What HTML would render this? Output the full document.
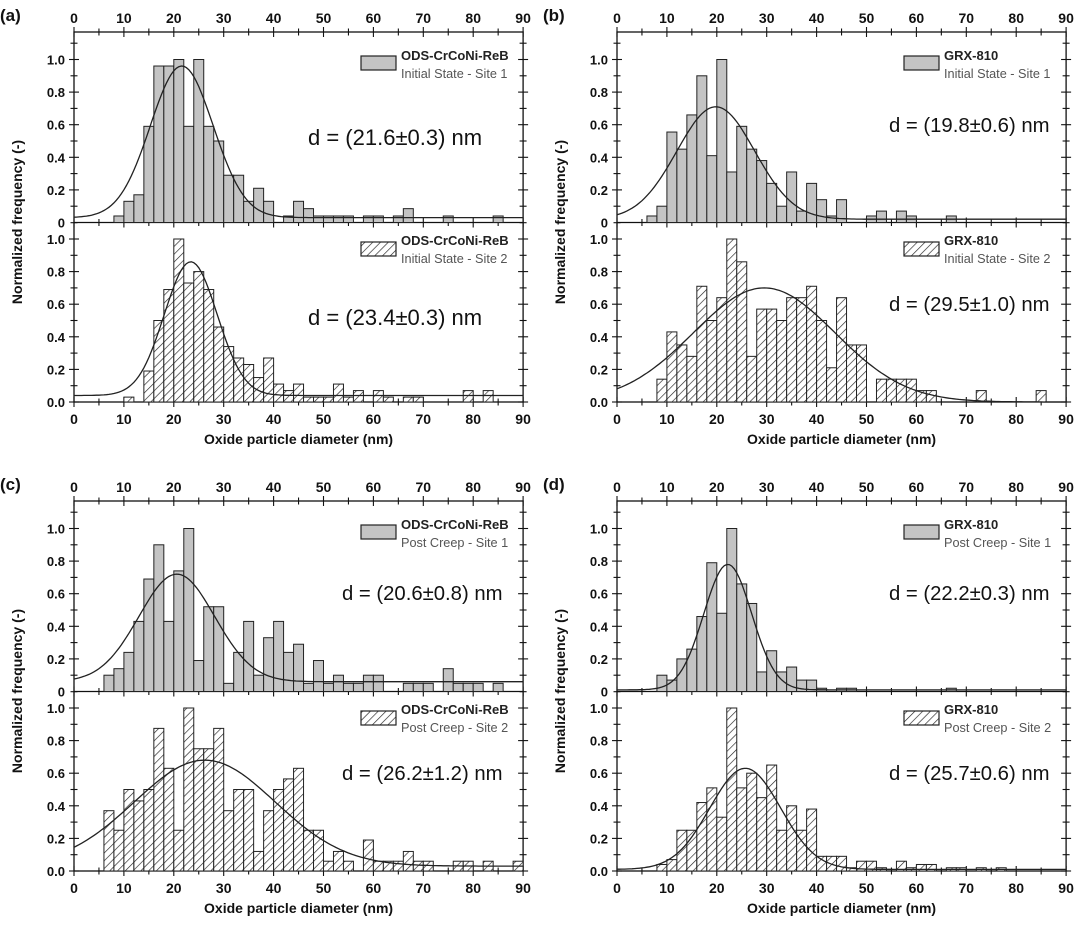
<!DOCTYPE html>
<html><head><meta charset="utf-8"><style>
html,body{margin:0;padding:0;background:#fff}
svg{display:block;font-family:"Liberation Sans",Arial,sans-serif}
</style></head><body>
<svg id="fig" width="1080" height="928" viewBox="0 0 1080 928" xmlns="http://www.w3.org/2000/svg">
<defs>
<pattern id="hatch" patternUnits="userSpaceOnUse" width="5.5" height="5.5" patternTransform="rotate(45)">
<rect width="5.5" height="5.5" fill="#fff"/><line x1="0" y1="0" x2="0" y2="5.5" stroke="#222" stroke-width="1.3"/>
</pattern>
</defs>
</svg>
<script>
// ---- data (bin start in nm, normalized frequency) ----
const aTopBins=[8,10,12,14,16,18,20,22,24,26,28,30,32,34,36,38,42,44,46,48,50,52,54,58,60,64,66,74,84];
const aTopVals=[0.04,0.13,0.17,0.59,0.96,0.96,1.0,0.59,1.0,0.59,0.50,0.29,0.29,0.13,0.21,0.13,0.04,0.13,0.085,0.04,0.04,0.04,0.04,0.04,0.04,0.04,0.085,0.04,0.04];
const aBotBins=[10,14,16,18,20,22,24,26,28,30,32,34,36,38,40,42,44,46,48,50,52,54,56,60,62,66,68,78,82];
const aBotVals=[0.03,0.19,0.50,0.69,1.0,0.73,0.80,0.69,0.46,0.34,0.27,0.23,0.15,0.27,0.11,0.07,0.11,0.03,0.03,0.03,0.11,0.03,0.07,0.07,0.03,0.03,0.03,0.07,0.07];
const bTopBins=[6,8,10,12,14,16,18,20,22,24,26,28,30,32,34,36,38,40,42,44,50,52,56,58,66];
const bTopVals=[0.04,0.10,0.555,0.45,0.66,0.90,0.41,1.0,0.31,0.59,0.45,0.38,0.24,0.10,0.31,0.07,0.24,0.14,0.04,0.14,0.04,0.07,0.07,0.04,0.04];
const bBotBins=[8,10,12,14,16,18,20,22,24,26,28,30,32,34,36,38,40,42,44,46,48,52,54,56,58,60,62,72,84];
const bBotVals=[0.14,0.43,0.35,0.28,0.71,0.50,0.64,1.0,0.86,0.28,0.57,0.57,0.50,0.64,0.64,0.71,0.50,0.21,0.64,0.35,0.35,0.14,0.14,0.14,0.14,0.07,0.07,0.07,0.07];
const cTopBins=[6,8,10,12,14,16,18,20,22,24,26,28,30,32,34,36,38,40,42,44,46,48,50,52,54,56,58,60,66,68,70,74,76,78,80,84];
const cTopVals=[0.10,0.14,0.24,0.43,0.69,0.90,0.43,0.74,1.0,0.19,0.52,0.52,0.05,0.24,0.43,0.10,0.33,0.43,0.24,0.29,0.05,0.19,0.05,0.10,0.05,0.05,0.10,0.10,0.05,0.05,0.05,0.14,0.05,0.05,0.05,0.05];
const cBotBins=[6,8,10,12,14,16,18,20,22,24,26,28,30,32,34,36,38,40,42,44,46,48,50,52,54,58,60,62,64,66,68,70,76,78,82,88];
const cBotVals=[0.37,0.25,0.50,0.43,0.50,0.875,0.63,0.25,1.0,0.75,0.75,0.875,0.37,0.50,0.50,0.12,0.37,0.50,0.565,0.63,0.25,0.25,0.06,0.12,0.06,0.19,0.06,0.06,0.06,0.12,0.06,0.06,0.06,0.06,0.06,0.06];
const dTopBins=[8,10,12,14,16,18,20,22,24,26,28,30,32,34,36,38,40,44,46,66];
const dTopVals=[0.10,0.07,0.20,0.26,0.46,0.79,0.48,1.0,0.66,0.54,0.12,0.25,0.12,0.15,0.07,0.07,0.02,0.02,0.02,0.02];
const dBotBins=[8,10,12,14,16,18,20,22,24,26,28,30,32,34,36,38,40,42,44,46,48,50,52,56,58,60,62,66,68,72,76];
const dBotVals=[0.04,0.07,0.25,0.25,0.42,0.51,0.33,1.0,0.51,0.60,0.45,0.65,0.25,0.40,0.25,0.38,0.09,0.09,0.09,0.02,0.06,0.06,0.02,0.06,0.02,0.04,0.04,0.02,0.02,0.02,0.02];
// gaussian fit params per subplot (a-top, a-bot, b-top, b-bot, c-top, c-bot, d-top, d-bot)
const fitCenters=[21.6,23.4,19.8,29.5,20.6,26.2,22.2,25.7];
const fitAmps=[0.93,0.82,0.69,0.70,0.66,0.65,0.77,0.62];
const fitSigmas=[6.3,5.3,7.8,14.2,7.6,14.1,4.8,7.1];
const fitOffsets=[0.03,0.04,0.02,0.0,0.06,0.03,0.01,0.01];
const xTickLabels=[0,10,20,30,40,50,60,70,80,90];
const yTickLabelsTop=["0","0.2","0.4","0.6","0.8","1.0"];
const yTickLabelsBot=["0.0","0.2","0.4","0.6","0.8","1.0"];
const sampleNames=["ODS-CrCoNi-ReB","ODS-CrCoNi-ReB","GRX-810","GRX-810","ODS-CrCoNi-ReB","ODS-CrCoNi-ReB","GRX-810","GRX-810"];
const siteNames=["Initial State - Site 1","Initial State - Site 2","Initial State - Site 1","Initial State - Site 2","Post Creep - Site 1","Post Creep - Site 2","Post Creep - Site 1","Post Creep - Site 2"];
const dLabels=["d = (21.6±0.3) nm","d = (23.4±0.3) nm","d = (19.8±0.6) nm","d = (29.5±1.0) nm","d = (20.6±0.8) nm","d = (26.2±1.2) nm","d = (22.2±0.3) nm","d = (25.7±0.6) nm"];

const NS="http://www.w3.org/2000/svg";
const svg=document.getElementById('fig');
function mk(tag,attrs,parent){const e=document.createElementNS(NS,tag);for(const k in attrs)e.setAttribute(k,attrs[k]);(parent||svg).appendChild(e);return e;}
const PX=4.99, PY=163;
const panels=[
 {id:'a',x0:74,top:32,subs:[[aTopBins,aTopVals],[aBotBins,aBotVals]],dx:[234,234],dy:[112,292],fs:22},
 {id:'b',x0:617,top:32,subs:[[bTopBins,bTopVals],[bBotBins,bBotVals]],dx:[272,272],dy:[99,278],fs:20.3},
 {id:'c',x0:74,top:501,subs:[[cTopBins,cTopVals],[cBotBins,cBotVals]],dx:[268,268],dy:[98,278],fs:20.3},
 {id:'d',x0:617,top:501,subs:[[dTopBins,dTopVals],[dBotBins,dBotVals]],dx:[272,272],dy:[98,278],fs:20.3}
];
panels.forEach((p,pi)=>{
  const g=mk('g',{});
  
  
  const xs=v=>p.x0+v*PX;
  const W=90*PX, T=p.top, B=p.top+370;
  const lab=mk('text',{x:p.x0-74,y:T-11,'font-size':17,'font-weight':'bold',fill:'#111'},g);
  lab.textContent='('+p.id+')';
  
  
  const fr=mk('rect',{x:p.x0,y:T,width:W,height:370,fill:'none',stroke:'#111','stroke-width':1.3},g);
  
  
  const sep=mk('line',{x1:p.x0,x2:p.x0+W,y1:T+190.5,y2:T+190.5,stroke:'#111','stroke-width':1.3},g);
  
  
  for(let v=0;v<=90;v+=5){
    const x=xs(v), L=(v%10===0)?5:3.5;
    [T,T+190.5,B].forEach(y=>{const t=mk('line',{x1:x,x2:x,y1:y-L,y2:y+L,stroke:'#111','stroke-width':1.1},g);
      
      });
  }
  xTickLabels.forEach(v=>{
    [T-9,B+22].forEach(y=>{const t=mk('text',{x:xs(v),y:y,'text-anchor':'middle','font-size':14,'font-weight':'bold',fill:'#111'},g);
      t.textContent=v;
      
      });
  });
  const xt=mk('text',{x:p.x0+W/2,y:B+42,'text-anchor':'middle','font-size':14,'font-weight':'bold',fill:'#111'},g);
  xt.textContent='Oxide particle diameter (nm)';
  
  
  const yt=mk('text',{x:0,y:0,'text-anchor':'middle','font-size':14,'font-weight':'bold',fill:'#111',transform:`translate(${p.x0-52},${T+190}) rotate(-90)`},g);
  yt.textContent='Normalized frequency (-)';
  
  
  p.subs.forEach((s,si)=>{
    const k=pi*2+si;
    const base=T+(si===0?190.5:370);
    const ys=v=>base-v*PY;
    for(let i=0;i<=11;i++){
      const y=ys(i/10), L=(i%2===0)?5:3.5;
      if(si===0 && i===0) continue;
      [p.x0,p.x0+W].forEach(x=>{const t=mk('line',{x1:x-L,x2:x+L,y1:y,y2:y,stroke:'#111','stroke-width':1.1},g);
        
        });
    }
    const yl=si===0?yTickLabelsTop:yTickLabelsBot;
    yl.forEach((l,i)=>{const t=mk('text',{x:p.x0-9,y:ys(i*0.2)+5,'text-anchor':'end','font-size':13,'font-weight':'bold',fill:'#111'},g);
      t.textContent=l;
      
      });
    const fill=si===0?'#c4c4c4':'url(#hatch)';
    s[0].forEach((b,i)=>{
      const r=mk('rect',{x:xs(b),y:ys(s[1][i]),width:2*PX,height:s[1][i]*PY,fill:fill,stroke:'#222','stroke-width':1},g);
      
      
    });
    let d='';
    for(let v=0;v<=90;v+=0.5){
      const f=fitOffsets[k]+fitAmps[k]*Math.exp(-Math.pow(v-fitCenters[k],2)/(2*fitSigmas[k]*fitSigmas[k]));
      d+=(v===0?'M':'L')+xs(v).toFixed(1)+','+ys(f).toFixed(1);
    }
    const c=mk('path',{d:d,fill:'none',stroke:'#222','stroke-width':1.3},g);
    
    
    const ly=T+(si===0?24:210);
    const lr=mk('rect',{x:p.x0+287,y:ly,width:35,height:14,fill:fill,stroke:'#222','stroke-width':1.2},g);
    
    
    const l1=mk('text',{x:p.x0+327,y:ly+4+(si===0?0:-1),'font-size':13,'font-weight':'bold',fill:'#222'},g);
    l1.textContent=sampleNames[k];
    
    
    const l2=mk('text',{x:p.x0+327,y:ly+22+(si===0?0:-1),'font-size':12.7,fill:'#555'},g);
    l2.textContent=siteNames[k];
    
    
    const an=mk('text',{x:p.x0+p.dx[si],y:T+p.dy[si]+1,'font-size':p.fs,fill:'#111'},g);
    an.textContent=dLabels[k];
    
    
  });
});
</script>
</body></html>
